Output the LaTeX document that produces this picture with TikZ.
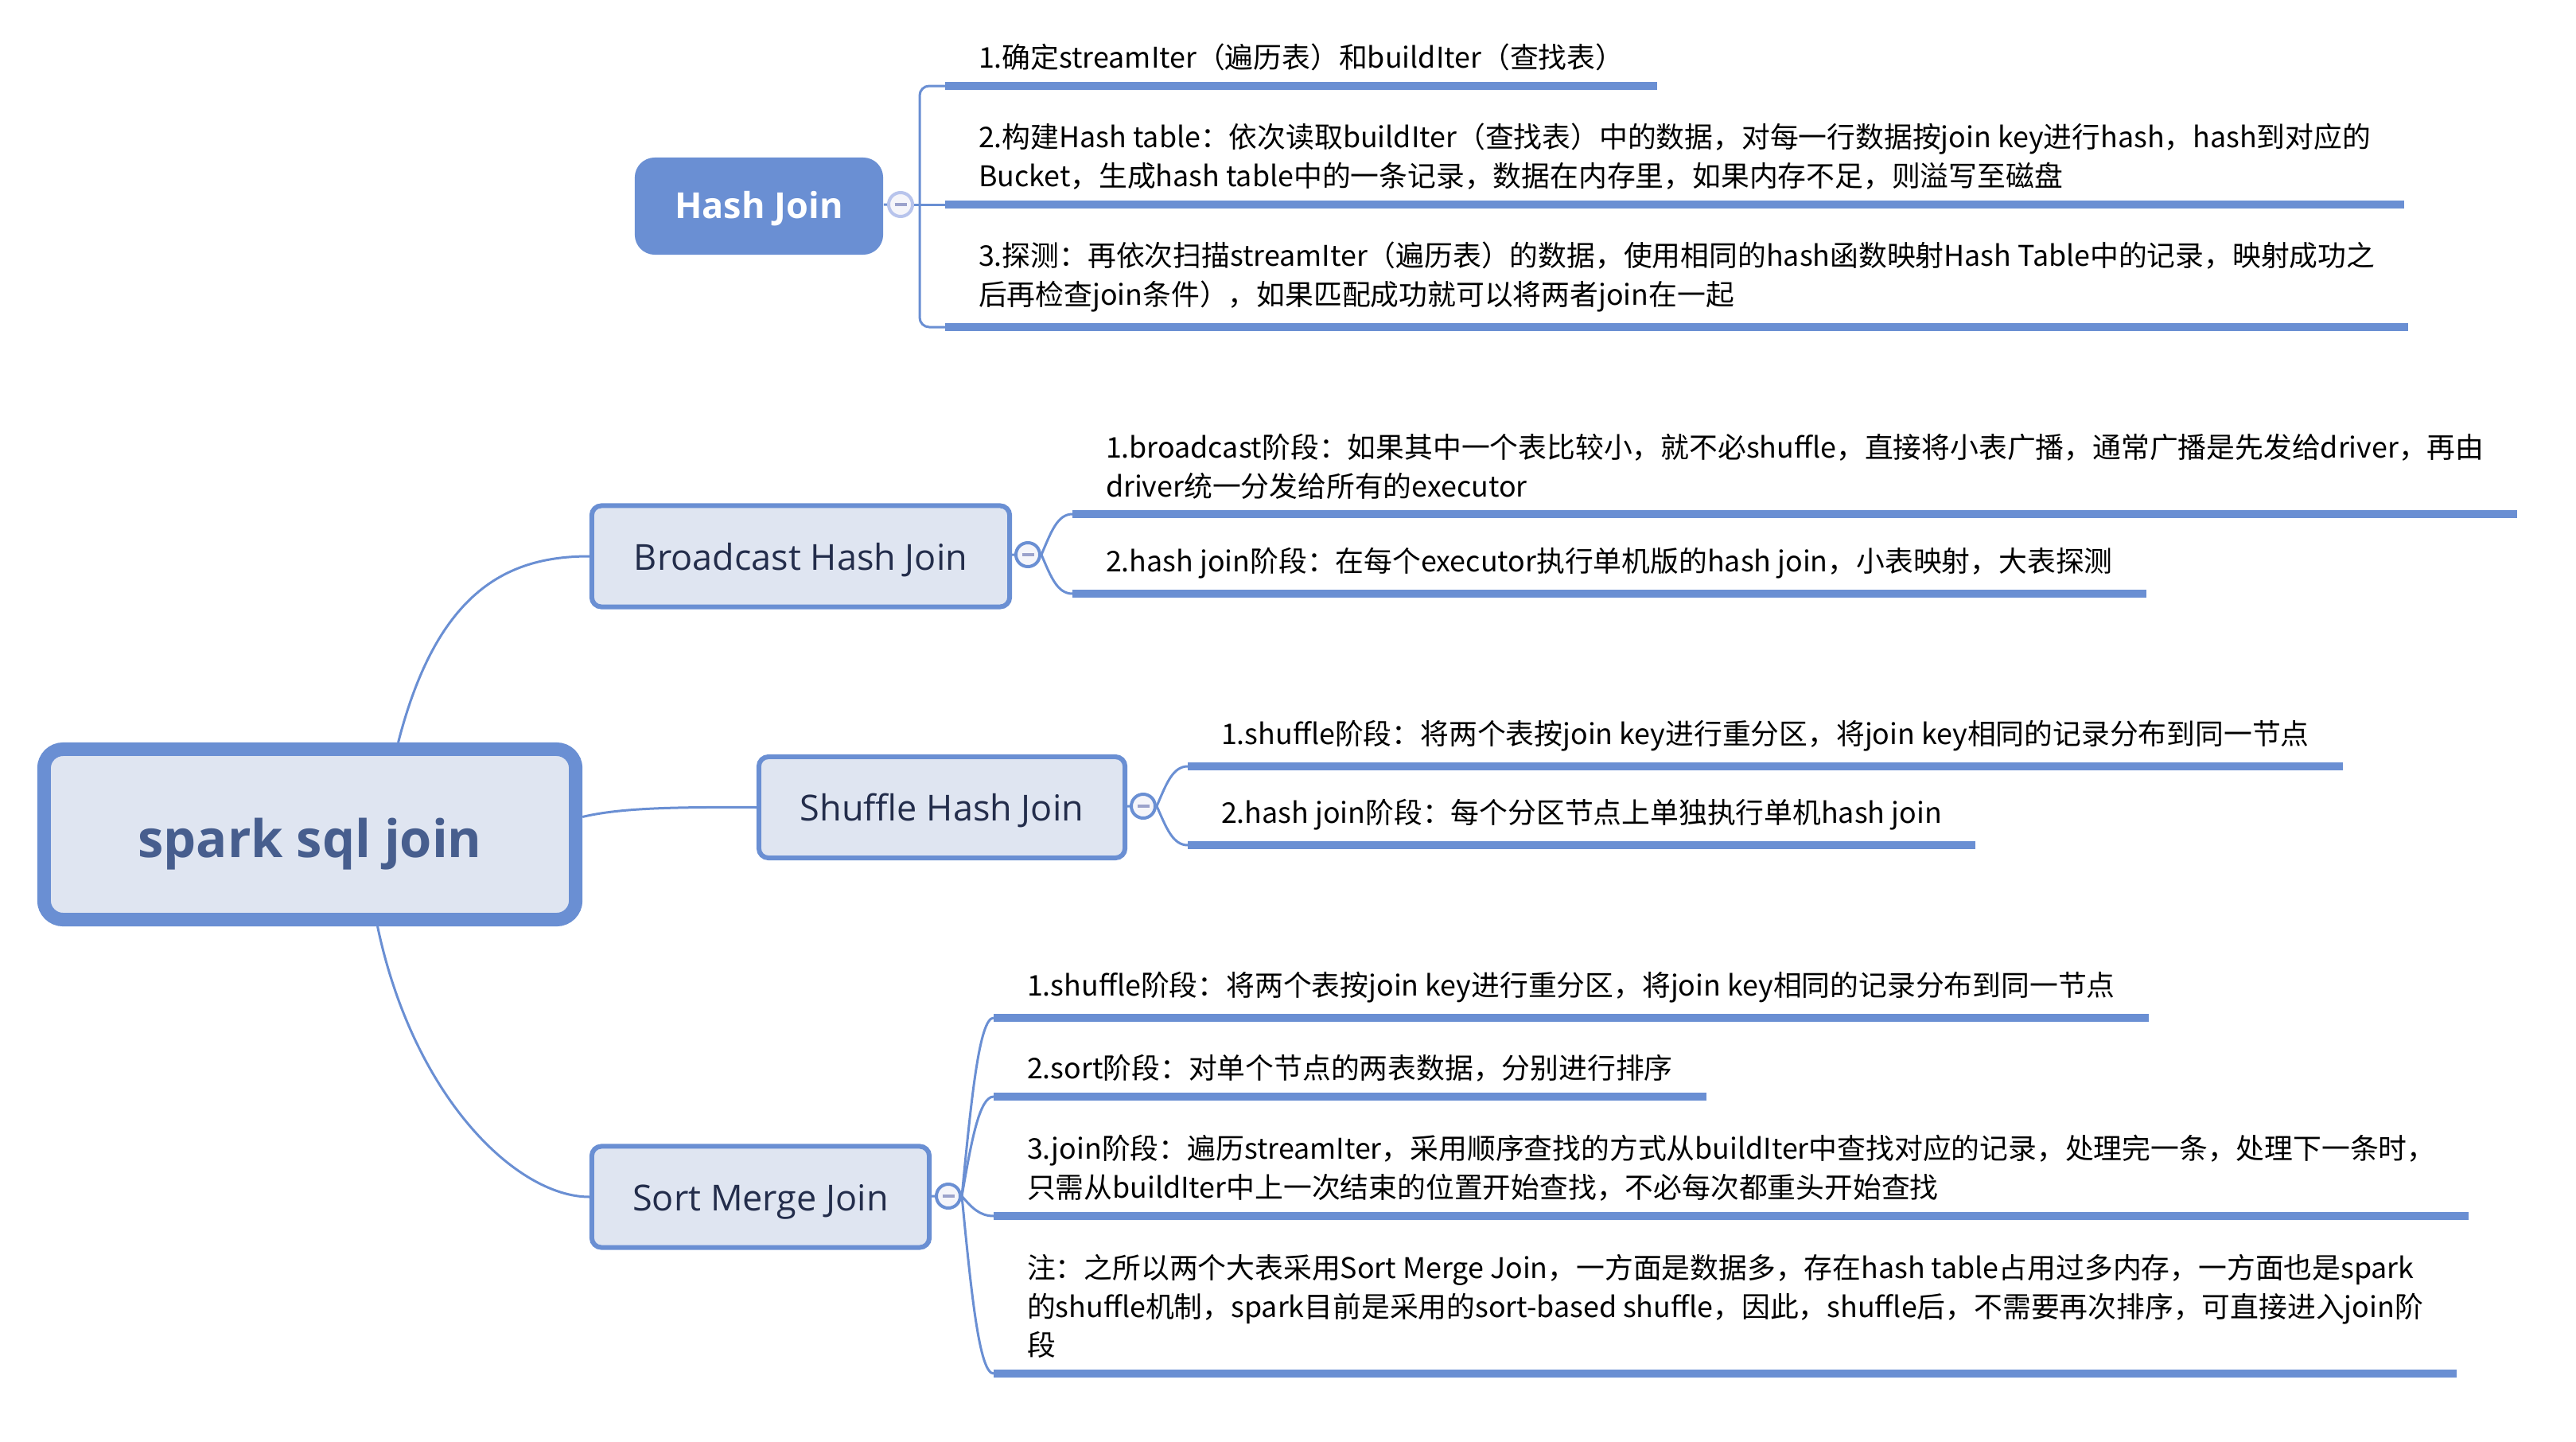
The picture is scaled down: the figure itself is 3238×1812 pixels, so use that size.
\documentclass[tikz,border=0pt]{standalone}
\usepackage{fontspec}
\setmainfont{Open Sans}
\newfontfamily\cjk{Noto Sans CJK SC}

\definecolor{mmblue}{RGB}{106,143,211}
\definecolor{boxfill}{RGB}{223,229,241}
\definecolor{roottext}{RGB}{71,94,142}
\definecolor{topictext}{RGB}{35,45,75}
\definecolor{foldfill}{RGB}{245,245,250}
\definecolor{foldminus}{RGB}{155,162,203}
\definecolor{foldlight}{RGB}{184,196,236}

\begin{document}
\begin{tikzpicture}[
    x=0.01cm, y=-0.01cm,
    root/.style={rectangle, draw=mmblue, fill=boxfill, line width=0.17cm, rounded corners=0.24cm, minimum width=6.68cm, minimum height=2.14cm, text=roottext, text height=20.9pt, text depth=4.4pt, font=\bfseries\fontsize{18.5}{22}\selectfont},
    topic/.style={rectangle, draw=mmblue, fill=boxfill, line width=0.06cm, rounded corners=0.12cm, minimum height=1.27cm, text=topictext, text height=12.9pt, text depth=3.1pt, font=\fontsize{12.8}{15}\selectfont},
    hashtopic/.style={rectangle, fill=mmblue, rounded corners=0.25cm, minimum width=3.12cm, minimum height=1.22cm, text=white, text height=11.9pt, text depth=3.1pt, font=\bfseries\fontsize{12.8}{15}\selectfont},
    item/.style={anchor=south west, align=left, inner xsep=0.42cm, inner ysep=0.19cm, outer sep=0pt, font=\cjk\fontsize{10.18}{13.9}\selectfont},
    bar/.style={mmblue, line width=0.1cm},
    branch/.style={mmblue, line width=0.03cm},
    fold/.style={circle, draw=mmblue, fill=foldfill, line width=0.04cm, minimum size=0.3cm, inner sep=0pt,
        path picture={\draw[foldminus, line width=0.04cm] ([xshift=-0.075cm]path picture bounding box.center) -- ([xshift=0.075cm]path picture bounding box.center);}}
]
    \useasboundingbox (0,0) rectangle (3238,1812);

    % Hash Join
    \node[hashtopic] (hj) at (954,259) {Hash Join};
    \node[fold, draw=foldlight] (hfold) at (1132,257) {};
    \node[item] (h1) at (1188,108) {1.确定streamIter（遍历表）和buildIter（查找表）};
    \node[item] (h2) at (1188,257) {2.构建Hash table：依次读取buildIter（查找表）中的数据，对每一行数据按join key进行hash，hash到对应的\\Bucket，生成hash table中的一条记录，数据在内存里，如果内存不足，则溢写至磁盘};
    \node[item] (h3) at (1188,411) {3.探测：再依次扫描streamIter（遍历表）的数据，使用相同的hash函数映射Hash Table中的记录，映射成功之\\后再检查join条件），如果匹配成功就可以将两者join在一起};
    \draw[branch] (hj) -- (hfold);
    \draw[branch] (hfold.east) -- (h2.south west);
    \draw[branch, rounded corners=0.12cm] (h1.south west) -- ++(-32,0) |- (h3.south west);
    \foreach \n in {h1,h2,h3}
        \draw[bar] (\n.south west) -- (\n.south east);

    % root
    \node[root] (root) at (389.5,1048.5) {spark sql join};

    % Broadcast Hash Join
    \node[topic, minimum width=5.25cm] (bhj) at (1006.5,699) {Broadcast Hash Join};
    \node[fold] (bfold) at (1292,697) {};
    \node[item] (b1) at (1348,646) {1.broadcast阶段：如果其中一个表比较小，就不必shuffle，直接将小表广播，通常广播是先发给driver，再由\\driver统一分发给所有的executor};
    \node[item] (b2) at (1348,746) {2.hash join阶段：在每个executor执行单机版的hash join，小表映射，大表探测};
    \draw[branch] (bhj) -- (bfold);
    \draw[branch] (bfold.east) .. controls +(12,-28) and +(-19,0) .. (b1.south west);
    \draw[branch] (bfold.east) .. controls +(12,28) and +(-19,0) .. (b2.south west);

    % Shuffle Hash Join
    \node[topic, minimum width=4.6cm] (shj) at (1184,1014.5) {Shuffle Hash Join};
    \node[fold] (sfold) at (1437,1013) {};
    \node[item] (s1) at (1493,963) {1.shuffle阶段：将两个表按join key进行重分区，将join key相同的记录分布到同一节点};
    \node[item] (s2) at (1493,1062) {2.hash join阶段：每个分区节点上单独执行单机hash join};
    \draw[branch] (shj) -- (sfold);
    \draw[branch] (sfold.east) .. controls +(12,-28) and +(-19,0) .. (s1.south west);
    \draw[branch] (sfold.east) .. controls +(12,27) and +(-19,0) .. (s2.south west);

    % Sort Merge Join
    \node[topic, minimum width=4.24cm] (smj) at (956,1504) {Sort Merge Join};
    \node[fold] (mfold) at (1192,1503) {};
    \node[item] (m1) at (1249,1279) {1.shuffle阶段：将两个表按join key进行重分区，将join key相同的记录分布到同一节点};
    \node[item] (m2) at (1249,1378) {2.sort阶段：对单个节点的两表数据，分别进行排序};
    \node[item] (m3) at (1249,1528) {3.join阶段：遍历streamIter，采用顺序查找的方式从buildIter中查找对应的记录，处理完一条，处理下一条时，\\只需从buildIter中上一次结束的位置开始查找，不必每次都重头开始查找};
    \node[item] (m4) at (1249,1726) {注：之所以两个大表采用Sort Merge Join，一方面是数据多，存在hash table占用过多内存，一方面也是spark\\的shuffle机制，spark目前是采用的sort-based shuffle，因此，shuffle后，不需要再次排序，可直接进入join阶\\段};
    \draw[branch] (smj) -- (mfold);
    \draw[branch] (mfold.east) .. controls +(12,-123) and +(-18,0) .. (m1.south west);
    \draw[branch] (mfold.east) .. controls +(12,-69) and +(-18,0) .. (m2.south west);
    \draw[branch] (mfold.east) .. controls +(12,14) and +(-18,0) .. (m3.south west);
    \draw[branch] (mfold.east) .. controls +(12,123) and +(-18,0) .. (m4.south west);

    % bars under the items
    \foreach \n in {b1,b2,s1,s2,m1,m2,m3,m4}
        \draw[bar] (\n.south west) -- (\n.south east);

    % root connectors
    \draw[branch] ([xshift=1.11cm]root.north) .. controls (550,740) and (640,699) .. (bhj.west);
    \draw[branch] ([yshift=0.22cm]root.east) .. controls (780,1015) and (850,1014) .. (shj.west);
    \draw[branch] ([xshift=0.85cm]root.south) .. controls (520,1380) and (650,1504) .. (smj.west);
\end{tikzpicture}
\end{document}
